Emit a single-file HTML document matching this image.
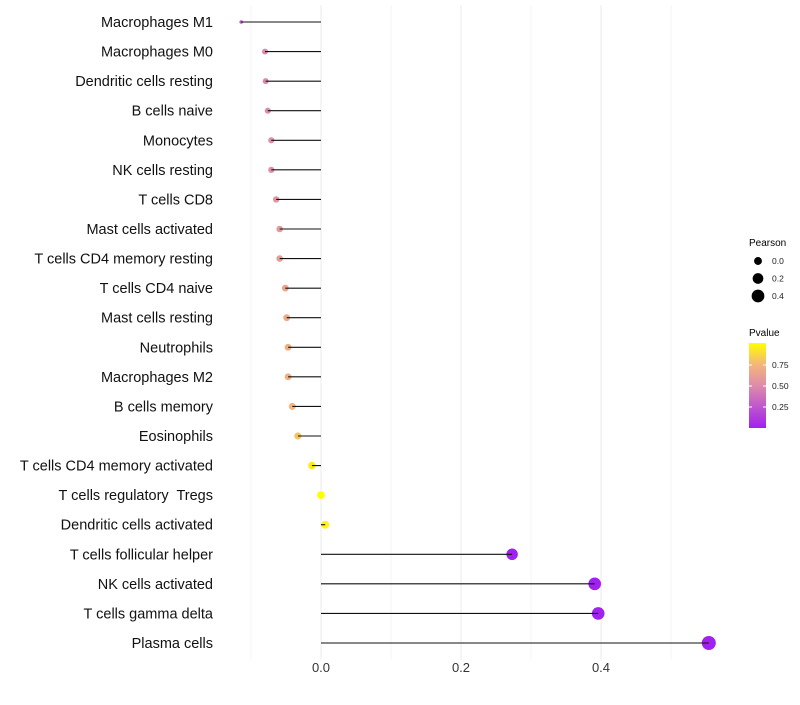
<!DOCTYPE html>
<html><head><meta charset="utf-8"><style>
body{margin:0;background:#fff;font-family:"Liberation Sans",Arial,sans-serif;}
svg text{font-family:"Liberation Sans",Arial,sans-serif;white-space:pre;}
</style></head><body>
<svg id="chart" width="800" height="700" xmlns="http://www.w3.org/2000/svg">
<defs><linearGradient id="pg" x1="0" y1="1" x2="0" y2="0">
<stop offset="0" stop-color="#a020f0"/><stop offset="0.5" stop-color="#de8caa"/><stop offset="0.75" stop-color="#f3b67a"/><stop offset="1" stop-color="#ffff00"/></linearGradient></defs>
<g id="grid"></g>
<g id="marks"></g>
<g id="ylabels"></g>
<g id="xlabels"></g>
<g>
<text x="749" y="246" font-size="10">Pearson</text>
<g id="sizeleg"></g>
</g>
<g>
<text x="749" y="336" font-size="10">Pvalue</text>
<rect x="749" y="343" width="17" height="85" fill="url(#pg)"/>
<g id="colleg"></g>
</g>
</svg>
<script>
const categories=["Macrophages M1","Macrophages M0","Dendritic cells resting","B cells naive","Monocytes","NK cells resting","T cells CD8","Mast cells activated","T cells CD4 memory resting","T cells CD4 naive","Mast cells resting","Neutrophils","Macrophages M2","B cells memory","Eosinophils","T cells CD4 memory activated","T cells regulatory  Tregs","Dendritic cells activated","T cells follicular helper","NK cells activated","T cells gamma delta","Plasma cells"];
const pearson=[-0.114,-0.08,-0.079,-0.076,-0.071,-0.071,-0.064,-0.059,-0.059,-0.051,-0.049,-0.047,-0.047,-0.041,-0.033,-0.013,0.0,0.006,0.273,0.391,0.396,0.554];
const pvalues=[0.25,0.48,0.48,0.5,0.52,0.52,0.55,0.58,0.6,0.65,0.68,0.7,0.7,0.75,0.8,0.93,1.0,0.97,0.01,0.01,0.01,0.01];
const xTicks=[0.0,0.2,0.4];
const sizeLegend=[0.0,0.2,0.4];
const colLegend=[0.25,0.5,0.75];
const NS="http://www.w3.org/2000/svg";
const x=v=>321+v*700;
const y=i=>22+i*(643-22)/(categories.length-1);
const pmin=Math.min(...pearson),pmax=Math.max(...pearson);
const r=v=>1.8+5.2*Math.sqrt(Math.max(0,(v-pmin)/(pmax-pmin)));
function col(p){const st=[[0,[160,32,240]],[0.5,[222,140,170]],[0.75,[243,182,122]],[1,[255,255,0]]];
for(let k=1;k<st.length;k++){if(p<=st[k][0]){const a=st[k-1],b=st[k],t=(p-a[0])/(b[0]-a[0]);return `rgb(${a[1].map((c,j)=>Math.round(c+(b[1][j]-c)*t)).join(',')})`;}}return 'rgb(255,255,0)';}
function mk(t,a,p){const e=document.createElementNS(NS,t);for(const k in a)e.setAttribute(k,a[k]);p.appendChild(e);return e;}
const grid=document.getElementById('grid');
[-0.1,0,0.1,0.2,0.3,0.4,0.5].forEach(v=>{const l=mk('line',{x1:x(v),x2:x(v),y1:5,y2:660,stroke:(Math.abs(v*10)%2<0.01)?'#ebebeb':'#f4f4f4','stroke-width':1},grid);

});
const marks=document.getElementById('marks'),yl=document.getElementById('ylabels'),xl=document.getElementById('xlabels');
categories.forEach((c,i)=>{
const d=mk('circle',{cx:x(pearson[i]),cy:y(i),r:r(pearson[i]),fill:col(pvalues[i])},marks);


const l=mk('line',{x1:x(0),x2:x(pearson[i]),y1:y(i),y2:y(i),stroke:'#111','stroke-width':1.1},marks);


const t=mk('text',{x:213,y:y(i)+5,'font-size':14.5,'text-anchor':'end',fill:'#111'},yl);t.textContent=c;

});
xTicks.forEach(v=>{const t=mk('text',{x:x(v),y:672,'font-size':13,'text-anchor':'middle',fill:'#333'},xl);t.textContent=v.toFixed(1);

});
const sl=document.getElementById('sizeleg');
sizeLegend.forEach((v,i)=>{const cy=261+i*17.5;
const c=mk('circle',{cx:758,cy:cy,r:r(v),fill:'#000'},sl);


const t=mk('text',{x:772,y:cy+3,'font-size':8.5,fill:'#222'},sl);t.textContent=v.toFixed(1);

});
const cl=document.getElementById('colleg');
colLegend.forEach(v=>{const cy=428-v*84;
mk('line',{x1:749,x2:752,y1:cy,y2:cy,stroke:'#fff'},cl);mk('line',{x1:763,x2:766,y1:cy,y2:cy,stroke:'#fff'},cl);
const t=mk('text',{x:772,y:cy+3,'font-size':8.5,fill:'#222'},cl);t.textContent=v.toFixed(2);

});
</script>
</body></html>
